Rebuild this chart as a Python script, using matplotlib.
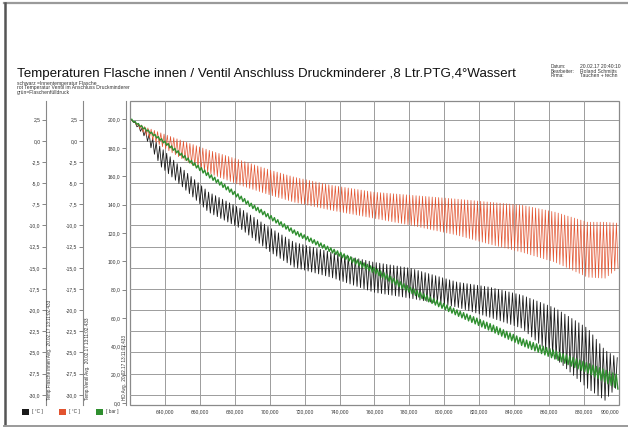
import numpy as np
import matplotlib
matplotlib.use("Agg")
import matplotlib.pyplot as plt
from matplotlib.patches import Rectangle
from matplotlib.lines import Line2D
from matplotlib.ticker import FixedLocator, FuncFormatter

plt.rcParams['font.family'] = ['Liberation Sans', 'DejaVu Sans']

# ---------------- data ----------------
x_env = [621000, 629000, 638000, 649000, 665000, 683000, 700500, 714000, 735000,
         759500, 780500, 807500, 826000, 844500, 863500, 882000, 892000, 899500]
# black: Innentemperatur Flasche [°C] (upper / lower envelope of the oscillation)
black_hi = [2.45, 1.26, -0.86, -3.11, -6.06, -7.96, -10.32, -11.98, -13.16,
            -14.34, -15.05, -16.70, -17.29, -18.24, -19.77, -22.14, -24.74, -25.68]
black_lo = [2.45, 0.32, -3.11, -5.24, -8.43, -10.32, -13.16, -14.93, -16.11,
            -17.88, -18.59, -19.65, -20.84, -22.14, -25.68, -29.23, -30.65, -28.88]
# red: Temperatur Ventil [°C]
red_hi = [2.45, 1.62, 0.91, 0.08, -1.10, -2.28, -3.47, -4.29, -5.24,
          -6.06, -6.42, -6.89, -7.25, -7.60, -8.43, -9.61, -9.61, -9.73]
red_lo = [2.45, 0.67, -0.63, -2.04, -3.82, -5.24, -6.42, -7.25, -8.19,
          -9.14, -9.96, -11.15, -12.21, -13.16, -14.34, -16.11, -16.23, -15.05]
# green: Flaschenfülldruck [bar]
x_green = [621000, 638000, 665000, 689000, 714000, 735000, 759500, 780500,
           807500, 826000, 844500, 863500, 882000, 899500]
green_hi = [200.1, 186.5, 162.3, 141.2, 122.1, 109.4, 95.8, 81.7, 65.5,
            56.1, 45.5, 36.9, 28.2, 19.8]
green_lo = [199.1, 184.5, 159.3, 138.2, 119.1, 106.4, 91.8, 77.7, 61.5,
            51.1, 40.5, 30.9, 21.2, 9.8]
# oscillation periods (x units)
period_black = 2000
period_red = 1850
period_green = 1900

x_ticks = list(range(640000, 900001, 20000))
temp_ticks = [2.5, 0.0, -2.5, -5.0, -7.5, -10.0, -12.5, -15.0, -17.5, -20.0,
              -22.5, -25.0, -27.5, -30.0]
bar_ticks = [0, 20, 40, 60, 80, 100, 120, 140, 160, 180, 200]

title = "Temperaturen Flasche innen / Ventil Anschluss Druckminderer ,8 Ltr.PTG,4°Wassert"
sub_lines = ["schwarz =Innentemperatur Flasche",
             "rot Temperatur Ventil im Anschluss Druckminderer",
             "grün=Flaschenfülldruck"]
info_keys = ["Datum:", "Bearbeiter:", "Firma:"]
info_vals = ["20.02.17 20:40:10", "Roland Schmitts", "Tauchen + techn"]
axis_labels = ["Temp.Flasche innen Avg.  20.02.17 13:11:02.433",
               "Temp.Ventil Avg.  20.02.17 13:11:02.433",
               "HD Avg.  20.02.17 13:11:02.433"]
legend_units = ["[ °C ]", "[ °C ]", "[ bar ]"]
colors = ["#1a1a1a", "#e2532f", "#2f8f2f"]


def zigzag(xs, hi, lo, period):
    xx = np.arange(xs[0], xs[-1], period / 2.0)
    h = np.interp(xx, xs, hi)
    l = np.interp(xx, xs, lo)
    yy = np.where(np.arange(len(xx)) % 2 == 0, h, l)
    return xx, yy


W, H = 628, 428
fig = plt.figure(figsize=(W / 100, H / 100), dpi=100)
fig.patch.set_facecolor("white")

def fx(px):
    return px / W

def fy(py):
    return (H - py) / H

# outer frame of the document
fig.add_artist(Line2D([fx(4), fx(628)], [fy(3), fy(3)], color="#9a9a9a", lw=1.6))
fig.add_artist(Line2D([fx(4.5), fx(4.5)], [fy(3), fy(425)], color="#555555", lw=1.8))
fig.add_artist(Line2D([fx(4), fx(628)], [fy(425.5), fy(425.5)], color="#9a9a9a", lw=1.4))

rect = [fx(130), fy(405), (619 - 130) / W, (405 - 101) / H]
ax = fig.add_axes(rect)
ax.set_xlim(620000, 900000)
ax.set_ylim(-31.2, 4.7)

tick_color = "#555555"
lab_size = 3.6
comma1 = FuncFormatter(lambda v, p: f"{v:.1f}".replace(".", ","))

# main (black) axis
for s in ["top", "right", "bottom"]:
    ax.spines[s].set_visible(False)
ax.spines["left"].set_position(("outward", 60.5))
ax.spines["left"].set_color("#888888")
ax.spines["left"].set_linewidth(0.8)
ax.yaxis.set_major_locator(FixedLocator(temp_ticks))
ax.yaxis.set_major_formatter(comma1)
ax.xaxis.set_major_locator(FixedLocator(x_ticks))
ax.xaxis.set_major_formatter(FuncFormatter(lambda v, p: f"{int(round(v)):,}"))
ax.tick_params(axis="y", labelsize=lab_size, length=3, width=0.5, color=tick_color,
               labelcolor="#333333", pad=1)
ax.tick_params(axis="x", labelsize=lab_size, length=0, labelcolor="#333333", pad=3)
ax.grid(True, color="#9c9c9c", lw=0.7)
ax.set_axisbelow(True)
ax.add_patch(Rectangle((0, 0), 1, 1, transform=ax.transAxes, fill=False,
                       edgecolor="#8a8a8a", lw=0.9, clip_on=False, zorder=0.5))
xt = ax.get_xticklabels()
xt[-1].set_horizontalalignment("right")

xb, yb = zigzag(x_env, black_hi, black_lo, period_black)
ax.plot(xb, yb, color=colors[0], lw=0.6)

# red axis
ax2 = ax.twinx()
ax2.set_ylim(ax.get_ylim())
for s in ["top", "right", "bottom"]:
    ax2.spines[s].set_visible(False)
ax2.yaxis.set_ticks_position("left")
ax2.yaxis.set_label_position("left")
ax2.spines["left"].set_visible(True)
ax2.spines["left"].set_position(("outward", 33.8))
ax2.spines["left"].set_color("#888888")
ax2.spines["left"].set_linewidth(0.8)
ax2.yaxis.set_major_locator(FixedLocator(temp_ticks))
ax2.yaxis.set_major_formatter(comma1)
ax2.tick_params(axis="y", labelsize=lab_size, length=3, width=0.5, color=tick_color,
                labelcolor="#333333", pad=1)
xr, yr = zigzag(x_env, red_hi, red_lo, period_red)
ax2.plot(xr, yr, color=colors[1], lw=0.5)

# green (bar) axis
ax3 = ax.twinx()
ax3.set_ylim(-1.4, 213)
for s in ["top", "right", "bottom"]:
    ax3.spines[s].set_visible(False)
ax3.yaxis.set_ticks_position("left")
ax3.yaxis.set_label_position("left")
ax3.spines["left"].set_visible(True)
ax3.spines["left"].set_position(("outward", 2.9))
ax3.spines["left"].set_color("#888888")
ax3.spines["left"].set_linewidth(0.8)
ax3.yaxis.set_major_locator(FixedLocator(bar_ticks))
ax3.yaxis.set_major_formatter(comma1)
ax3.tick_params(axis="y", labelsize=lab_size, length=3, width=0.5, color=tick_color,
                labelcolor="#333333", pad=1)
xg, yg = zigzag(x_green, green_hi, green_lo, period_green)
ax3.plot(xg, yg, color=colors[2], lw=1.0)

# axis titles (rotated)
for xpx, lab in zip([50, 87, 124], axis_labels):
    fig.text(fx(xpx), fy(400), lab, rotation=90, ha="center", va="bottom",
             fontsize=3.3, color="#333333")

# title & comments
fig.text(fx(17), fy(77), title, fontsize=9.6, color="#111111", va="baseline", ha="left")
for i, line in enumerate(sub_lines):
    fig.text(fx(17), fy(83 + 4.7 * i), line, fontsize=3.6, color="#333333",
             va="center", ha="left")
for i, (k, v) in enumerate(zip(info_keys, info_vals)):
    fig.text(fx(551), fy(67 + 4.3 * i), k, fontsize=3.4, color="#333333", va="center")
    fig.text(fx(580), fy(67 + 4.3 * i), v, fontsize=3.6, color="#333333", va="center")

# legend
for xpx, c, u in zip([22, 59, 96], colors, legend_units):
    fig.add_artist(Rectangle((fx(xpx), fy(414.5)), 7 / W, 5.5 / H,
                             transform=fig.transFigure, facecolor=c, edgecolor="none"))
    fig.text(fx(xpx + 10), fy(411.8), u, fontsize=3.4, color="#333333", va="center")

fig.savefig("out.png", dpi=100, facecolor="white")
